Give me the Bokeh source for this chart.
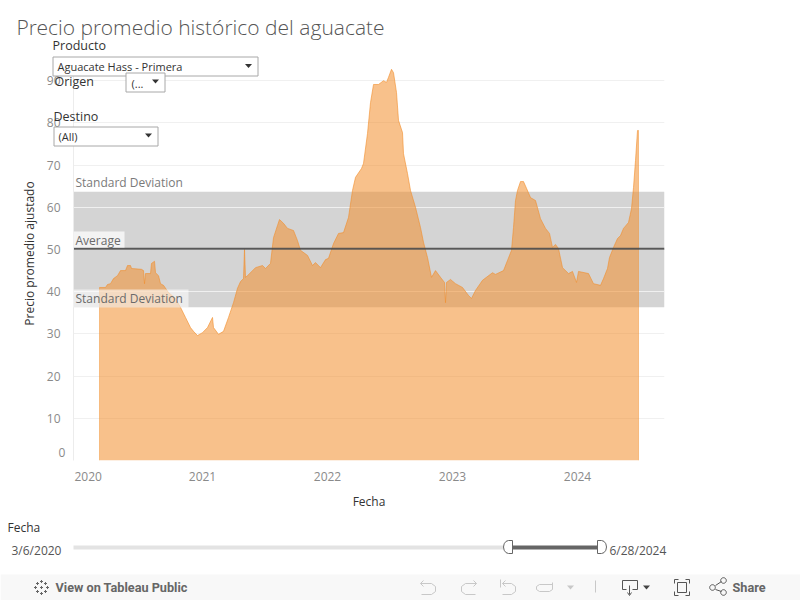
import math
from bokeh.plotting import figure
from bokeh.embed import file_html
from bokeh.resources import INLINE
from bokeh.core.properties import value
from bokeh.models import FixedTicker, Range1d

titulo = "Precio promedio histórico del aguacate"
fecha = [2020.176,2020.224,2020.240,2020.264,2020.288,2020.320,2020.344,2020.384,2020.400,2020.424,2020.432,2020.512,2020.528,2020.536,2020.544,2020.584,2020.592,2020.616,2020.624,2020.648,2020.664,2020.688,2020.728,2020.784,2020.824,2020.864,2020.904,2020.928,2020.960,
2021.000,2021.040,2021.080,2021.088,2021.128,2021.168,2021.208,2021.248,2021.280,2021.304,2021.328,2021.336,2021.344,2021.360,2021.424,2021.480,2021.504,2021.544,2021.568,2021.600,2021.616,2021.648,2021.680,2021.728,2021.760,2021.784,2021.840,2021.880,2021.904,2021.944,2021.984,
2022.008,2022.048,2022.088,2022.128,2022.168,2022.200,2022.224,2022.272,2022.288,2022.320,2022.344,2022.368,2022.408,2022.448,2022.472,2022.488,2022.512,2022.528,2022.552,2022.568,2022.600,2022.608,2022.640,2022.664,2022.704,2022.744,2022.768,2022.800,2022.832,2022.864,2022.904,2022.936,2022.944,2022.952,2022.984,
2023.024,2023.080,2023.128,2023.152,2023.184,2023.240,2023.320,2023.344,2023.408,2023.440,2023.472,2023.488,2023.504,2023.520,2023.544,2023.568,2023.592,2023.624,2023.664,2023.704,2023.744,2023.776,2023.800,2023.824,2023.848,2023.880,2023.928,2023.960,2023.992,
2024.008,2024.088,2024.128,2024.184,2024.208,2024.240,2024.256,2024.288,2024.320,2024.344,2024.368,2024.408,2024.432,2024.448,2024.464,2024.480,2024.488]
precio = [41.0,41.0,41.7,41.9,43.1,43.8,45.0,45.0,46.2,46.2,45.5,45.3,45.0,41.9,44.3,44.3,46.7,47.2,44.5,43.8,41.9,41.5,39.8,38.4,36.3,33.9,31.5,30.6,29.6,
30.3,31.5,33.9,31.5,29.9,30.6,33.9,37.4,40.8,42.4,43.1,50.0,43.4,43.8,45.7,46.2,45.5,46.7,52.8,55.7,57.1,56.2,55.0,54.5,52.1,49.8,48.6,46.2,46.9,45.7,47.6,
47.9,51.4,53.8,54.0,57.6,64.0,67.1,69.2,70.4,77.5,84.8,89.1,89.1,90.0,89.6,90.8,92.7,91.9,87.2,80.6,77.7,72.7,68.0,64.0,60.0,55.2,51.7,48.1,43.4,45.0,43.4,42.2,37.4,42.2,42.9,
41.9,41.0,39.1,38.4,40.3,42.7,44.5,44.1,45.0,47.4,49.8,55.2,61.6,64.0,66.1,66.1,64.5,62.3,61.6,57.3,55.0,53.8,50.5,51.2,50.2,45.7,44.3,44.8,42.2,
44.8,44.3,41.9,41.5,43.1,45.5,48.1,50.5,52.6,53.3,55.0,56.4,59.7,64.7,71.1,78.2,78.2]
promedio = 50.2
desv_sup = 63.7
desv_inf = 36.3
anios = [2020, 2021, 2022, 2023, 2024]
y_ticks = [0,10,20,30,40,50,60,70,80,90]

X0, X1 = 2019.968, 2024.696
p = figure(width=800, height=600, output_backend="svg", toolbar_location=None,
           x_range=Range1d(X0, X1), y_range=Range1d(0, 93.6),
           min_border_left=73, min_border_right=136, min_border_top=65, min_border_bottom=140,
           background_fill_color="white", outline_line_color=None)
p.styles = {"position": "absolute", "left": "0", "top": "0"}

FONT = "Open Sans"
GR = "#8a8a8a"
p.xaxis.ticker = FixedTicker(ticks=anios)
p.yaxis.ticker = FixedTicker(ticks=y_ticks)
p.xaxis.major_label_overrides = {2020: ""}
p.yaxis.major_label_overrides = {0: ""}
for ax in (p.xaxis[0], p.yaxis[0]):
    ax.major_tick_line_color = None
    ax.minor_tick_line_color = None
    ax.major_label_text_color = GR
    ax.major_label_text_font = FONT
    ax.major_label_text_font_size = "12px"
    ax.axis_label_text_font = FONT
    ax.axis_label_text_font_size = "12px"
    ax.axis_label_text_font_style = "normal"
    ax.axis_label_text_color = "#333333"
p.xaxis.axis_line_color = None
p.yaxis.axis_line_color = "#ececec"
p.xaxis.axis_label = "Fecha"
p.xaxis.major_label_standoff = 5
p.yaxis.major_label_standoff = 7
p.xaxis.axis_label_standoff = 9
p.xgrid.visible = False
p.ygrid.grid_line_color = "#f0f0f0"

p.quad(left=X0, right=X1, bottom=desv_inf, top=desv_sup,
       fill_color="#d4d4d4", line_color=None, level="image")
p.varea(x=fecha, y1=[0]*len(fecha), y2=precio, fill_color="#F28E2B", fill_alpha=0.55)
p.line(x=fecha, y=precio, line_color="#F28E2B", line_alpha=0.6, line_width=1)
p.segment(x0=[fecha[0], fecha[-1]], y0=[0, 0], x1=[fecha[0], fecha[-1]], y1=[precio[0], precio[-1]],
          line_color="#F28E2B", line_alpha=0.45, line_width=1)
p.line(x=[X0, X1], y=[promedio, promedio], line_color="#4a4a4a", line_width=2, line_alpha=0.9)

# transparent page-sized layer for the dashboard furniture, in page pixels
q = figure(width=800, height=600, output_backend="svg", toolbar_location=None,
           x_range=Range1d(0, 800), y_range=Range1d(600, 0), min_border=0,
           background_fill_alpha=0, border_fill_alpha=0, outline_line_color=None)
q.axis.visible = False
q.grid.visible = False
q.styles = {"position": "absolute", "left": "0", "top": "0"}


def txt(x, y, s, size=12, color="#333333", font=FONT, align="left", style="normal", angle=0):
    q.text(x=[x], y=[y], text=[s], text_font=value(font), text_font_size=value(f"{size}px"), text_color=color,
           text_align=align, text_baseline="middle", text_font_style=style, angle=angle)


def box(x0, y0, x1, y1, fill="white", line=None, lw=1, alpha=1.0):
    q.quad(left=[x0], right=[x1], top=[y0], bottom=[y1], fill_color=fill, fill_alpha=alpha if fill else 0,
           line_color=line, line_width=lw)


def poly(pts, fill=None, line=None, lw=1):
    q.patch(x=[a for a, _ in pts], y=[b for _, b in pts], fill_color=fill or "white", fill_alpha=1 if fill else 0,
            line_color=line, line_width=lw)


def path(pts, color, lw=1):
    q.line(x=[a for a, _ in pts], y=[b for _, b in pts], line_color=color, line_width=lw)


def circ(x, y, r, color="#666666", fill=None, lw=1):
    poly([(x + r*math.cos(i*math.pi/8), y + r*math.sin(i*math.pi/8)) for i in range(16)], fill=fill, line=color, lw=lw)


def tri(x, y, w, h, color="#333333"):
    poly([(x-w, y-h/2), (x+w, y-h/2), (x, y+h/2)], fill=color)


# texts over the plot
txt(75, 182, "Standard Deviation", color="#7a7a7a")
box(73, 231, 124, 247, fill="#f3f3f3")
txt(75, 240, "Average", color="#6a6a6a")
box(73, 289, 188, 307, fill="white", alpha=0.55)
txt(75, 298, "Standard Deviation", color="#6a6a6a")
txt(74, 476, "2020", color=GR)
txt(58, 452, "0", color=GR)
txt(29, 253, "Precio promedio ajustado", align="center", angle=math.pi/2)

# title and filters
txt(16, 26, titulo, size=21, color="#555555", font="Open Sans Light")
txt(52, 45, "Producto", size=12.5)
BX = "#a8a8a8"
box(52.5, 56.5, 257.5, 75.5, line=BX)
txt(57, 66, "Aguacate Hass - Primera", size=11)
tri(248, 65.5, 3.5, 4)
txt(54, 81, "Origen", size=12.5)
box(125.5, 72.5, 164.5, 91.5, line=BX)
txt(131, 83, "(...", size=11)
tri(155, 81, 3.5, 4)
txt(53, 116, "Destino", size=12.5)
box(53.5, 126.5, 157.5, 145.5, line=BX)
txt(58, 136, "(All)", size=11)
tri(148, 135, 3.5, 4)

# date slider
txt(7, 527, "Fecha", size=12)
txt(11, 550, "3/6/2020", size=12, color="#555555")
txt(609, 550, "6/28/2024", size=12, color="#555555")
box(73, 545, 508, 549, fill="#e3e3e3")
box(512, 545, 598, 549, fill="#666666")
poly([(512, 540), (508, 540)] + [(508 - 5*math.sin(i*math.pi/6), 546.5 - 6.5*math.cos(i*math.pi/6)) for i in range(1, 6)] + [(508, 553), (512, 553)], fill="white", line="#666666")
poly([(597, 540), (601, 540)] + [(601 + 5*math.sin(i*math.pi/6), 546.5 - 6.5*math.cos(i*math.pi/6)) for i in range(1, 6)] + [(601, 553), (597, 553)], fill="white", line="#666666")

# bottom bar
box(0, 574, 800, 600, fill="#f8f8f8")
txt(55, 587, "View on Tableau Public", size=12.7, color="#666666", font="Roboto", style="bold")
txt(732, 587, "Share", size=12.7, color="#666666", font="Roboto", style="bold")
for cx, cy in [(41, 587), (37, 583), (45, 583), (37, 591), (45, 591), (41, 581), (41, 593), (35, 587), (47, 587)]:
    path([(cx-1.5, cy), (cx+1.5, cy)], "#666666")
    path([(cx, cy-1.5), (cx, cy+1.5)], "#666666")

LG = "#c8c8c8"
path([(420, 583), (431, 583), (435, 586), (435, 591), (431, 594), (421, 594)], LG)
path([(423, 580), (420, 583), (423, 586)], LG)
path([(476, 583), (465, 583), (461, 586), (461, 591), (465, 594), (475, 594)], LG)
path([(473, 580), (476, 583), (473, 586)], LG)
path([(500, 579), (500, 587)], LG)
path([(502, 583), (511, 583), (515, 586), (515, 591), (511, 594), (502, 594)], LG)
path([(505, 580), (502, 583), (505, 586)], LG)
path([(552, 584), (539, 584), (536, 586), (536, 589), (539, 591), (549, 591), (552, 589), (552, 582)], LG)
tri(570, 587, 3.5, 4, LG)
path([(595, 580), (595, 592)], LG)
D = "#555555"
path([(626, 589), (622, 589), (622, 580), (637, 580), (637, 589), (632, 589)], D)
path([(629, 585), (629, 594)], D)
path([(627, 592), (629, 595), (631, 592)], D)
tri(646, 587, 3.5, 4, "#444444")
for a in [[(674, 583), (674, 579), (678, 579)], [(685, 579), (689, 579), (689, 583)], [(674, 591), (674, 595), (678, 595)], [(685, 595), (689, 595), (689, 591)]]:
    path(a, D)
box(677, 582, 686, 592, fill=None, line=D)
path([(715, 585), (721, 581)], D)
path([(715, 589), (721, 591)], D)
circ(712, 587, 2.8, D)
circ(723, 580, 2.8, D)
circ(723, 592, 2.8, D)

open("out.html", "w").write(file_html([p, q], INLINE))
